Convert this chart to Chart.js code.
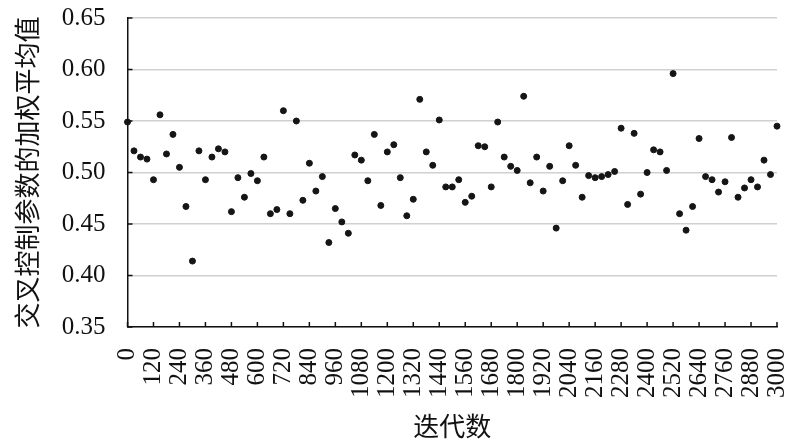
<!DOCTYPE html>
<html>
<head>
<meta charset="utf-8">
<script src="https://cdn.jsdelivr.net/npm/chart.js@4/dist/chart.umd.min.js"></script>
<style>
  html, body { margin: 0; padding: 0; background: #fff; }
  #wrap { width: 800px; height: 442px; }
</style>
</head>
<body>
<div id="wrap"><canvas id="graph"></canvas></div>
<script>
'use strict';

// iterations (x) and weighted mean of the crossover control parameter (y)
const iterations = [
    0, 30, 60, 90, 120, 150, 180, 210, 240, 270,
    300, 330, 360, 390, 420, 450, 480, 510, 540, 570,
    600, 630, 660, 690, 720, 750, 780, 810, 840, 870,
    900, 930, 960, 990, 1020, 1050, 1080, 1110, 1140, 1170,
    1200, 1230, 1260, 1290, 1320, 1350, 1380, 1410, 1440, 1470,
    1500, 1530, 1560, 1590, 1620, 1650, 1680, 1710, 1740, 1770,
    1800, 1830, 1860, 1890, 1920, 1950, 1980, 2010, 2040, 2070,
    2100, 2130, 2160, 2190, 2220, 2250, 2280, 2310, 2340, 2370,
    2400, 2430, 2460, 2490, 2520, 2550, 2580, 2610, 2640, 2670,
    2700, 2730, 2760, 2790, 2820, 2850, 2880, 2910, 2940, 2970,
    3000
];
const weightedMean = [
    0.549, 0.521, 0.515, 0.513, 0.493, 0.556, 0.518, 0.537, 0.505, 0.467,
    0.414, 0.521, 0.493, 0.515, 0.523, 0.520, 0.462, 0.495, 0.476, 0.499,
    0.492, 0.515, 0.460, 0.464, 0.560, 0.460, 0.550, 0.473, 0.509, 0.482,
    0.496, 0.432, 0.465, 0.452, 0.441, 0.517, 0.512, 0.492, 0.537, 0.468,
    0.520, 0.527, 0.495, 0.458, 0.474, 0.571, 0.520, 0.507, 0.551, 0.486,
    0.486, 0.493, 0.471, 0.477, 0.526, 0.525, 0.486, 0.549, 0.515, 0.506,
    0.502, 0.574, 0.490, 0.515, 0.482, 0.506, 0.446, 0.492, 0.526, 0.507,
    0.476, 0.497, 0.495, 0.496, 0.498, 0.501, 0.543, 0.469, 0.538, 0.479,
    0.500, 0.522, 0.520, 0.502, 0.596, 0.460, 0.444, 0.467, 0.533, 0.496,
    0.493, 0.481, 0.491, 0.534, 0.476, 0.485, 0.493, 0.486, 0.512, 0.498,
    0.545
];
const xTicks = [0, 120, 240, 360, 480, 600, 720, 840, 960, 1080, 1200, 1320, 1440,
    1560, 1680, 1800, 1920, 2040, 2160, 2280, 2400, 2520, 2640, 2760, 2880, 3000];
const yTicks = [0.35, 0.40, 0.45, 0.50, 0.55, 0.60, 0.65];

const numFont = { family: '"Liberation Serif", "Times New Roman", serif', size: 25 };
const cjkFont = { family: '"Noto Sans CJK SC", sans-serif', size: 26, lineHeight: 1.2 };

// Excel-style short tick marks pointing into the plot area
const innerTicks = {
    id: 'innerTicks',
    afterDatasetsDraw(chart) {
        const { ctx, chartArea, scales } = chart;
        ctx.save();
        ctx.strokeStyle = '#111';
        ctx.lineWidth = 1.5;
        ctx.beginPath();
        scales.x.ticks.forEach(t => {
            const px = scales.x.getPixelForValue(t.value);
            ctx.moveTo(px, chartArea.bottom);
            ctx.lineTo(px, chartArea.bottom - 5);
        });
        scales.y.ticks.forEach(t => {
            const py = scales.y.getPixelForValue(t.value);
            ctx.moveTo(chartArea.left, py);
            ctx.lineTo(chartArea.left + 5, py);
        });
        ctx.stroke();
        ctx.restore();
    }
};

new Chart('graph', {
    type: 'scatter',
    data: {
        datasets: [{
            data: iterations.map((it, i) => ({ x: it, y: weightedMean[i] })),
            backgroundColor: '#151515',
            borderColor: '#151515',
            pointRadius: 3,
            pointHoverRadius: 3,
            clip: false
        }]
    },
    options: {
        responsive: true,
        maintainAspectRatio: false,
        animation: false,
        layout: { padding: { top: 18, right: 23, bottom: 0, left: 0 } },
        plugins: {
            legend: { display: false },
            tooltip: { enabled: false }
        },
        scales: {
            x: {
                type: 'linear',
                min: 0,
                max: 3000,
                afterBuildTicks: s => { s.ticks = xTicks.map(v => ({ value: v })); },
                afterFit: s => {
                    s.height = 115;
                    s.paddingLeft = 0;
                    s.paddingRight = 0;
                },
                grid: { display: false, drawTicks: false },
                border: { color: '#111', width: 1.5 },
                ticks: {
                    autoSkip: false,
                    minRotation: 90,
                    maxRotation: 90,
                    padding: 21,
                    color: '#111',
                    font: numFont,
                    callback: v => String(v)
                },
                title: {
                    display: true,
                    text: '迭代数',
                    color: '#111',
                    font: cjkFont,
                    padding: { top: 0, bottom: 0 }
                }
            },
            y: {
                min: 0.35,
                max: 0.65,
                afterBuildTicks: s => { s.ticks = yTicks.map(v => ({ value: v })); },
                afterFit: s => {
                    s.width = 127.5;
                    s.paddingTop = 0;
                    s.paddingBottom = 0;
                },
                grid: { color: '#d0d0d0', lineWidth: 1.5, drawTicks: false },
                border: { color: '#111', width: 1.5 },
                ticks: {
                    padding: 22,
                    color: '#111',
                    font: numFont,
                    callback: v => v.toFixed(2)
                },
                title: {
                    display: true,
                    text: '交叉控制参数的加权平均值',
                    color: '#111',
                    font: cjkFont,
                    padding: { top: 12, bottom: 0 }
                }
            }
        }
    },
    plugins: [innerTicks]
});
</script>
</body>
</html>
